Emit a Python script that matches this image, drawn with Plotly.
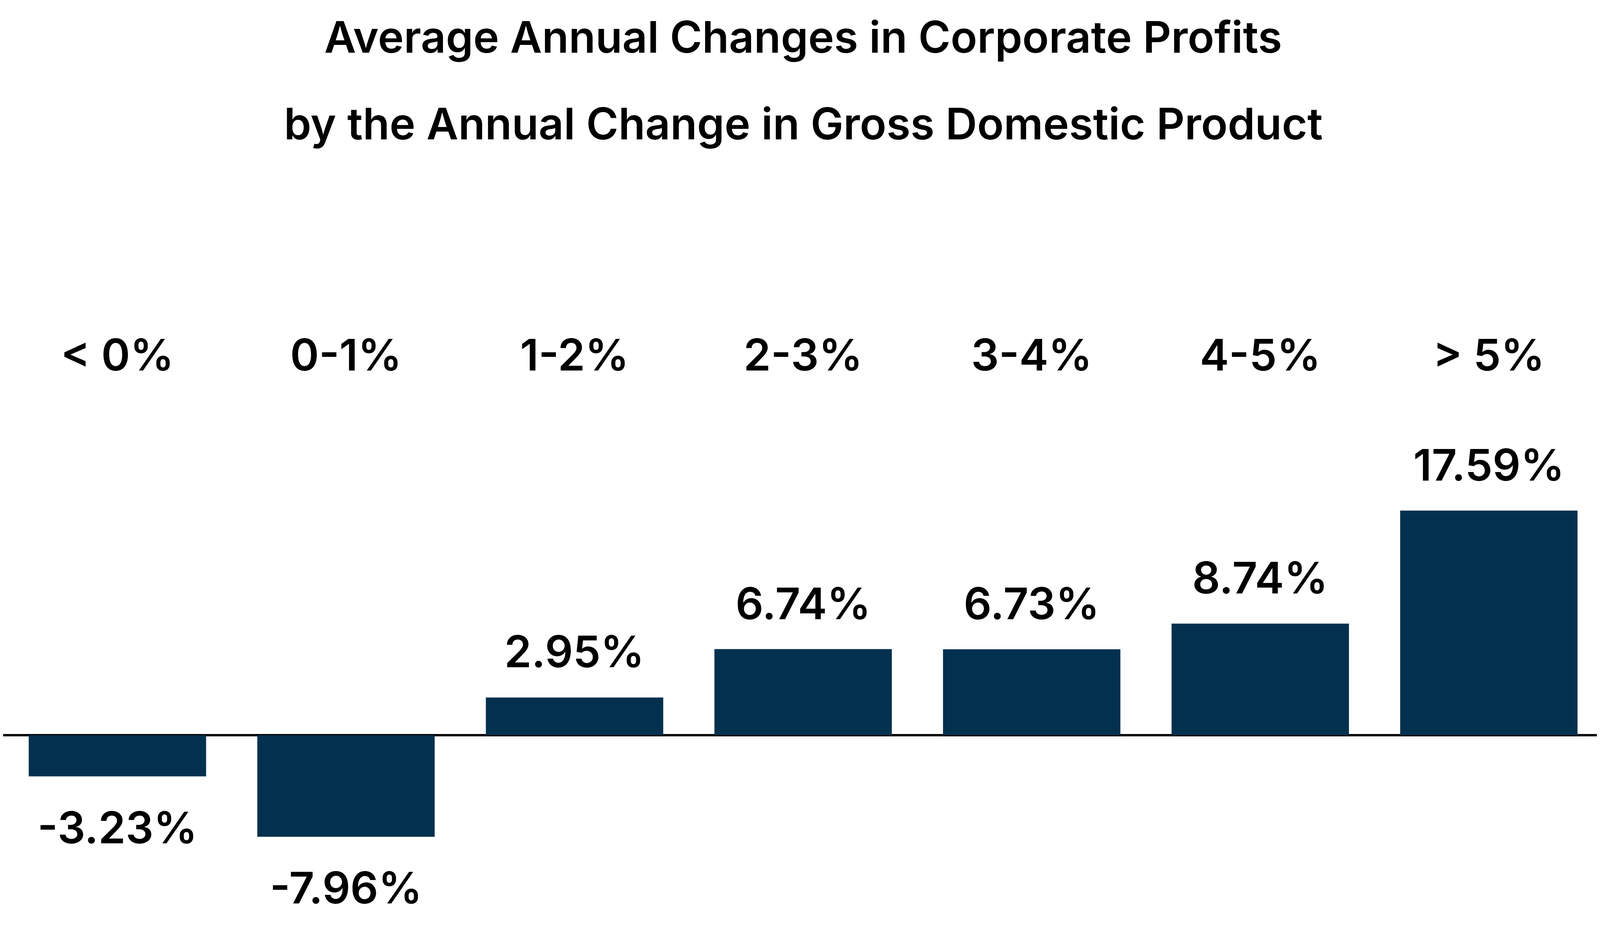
import plotly.graph_objects as go

categories = ["< 0%", "0-1%", "1-2%", "2-3%", "3-4%", "4-5%", "> 5%"]
values = [-3.23, -7.96, 2.95, 6.74, 6.73, 8.74, 17.59]
value_labels = ["-3.23%", "-7.96%", "2.95%", "6.74%", "6.73%", "8.74%", "17.59%"]
title_lines = ["Average Annual Changes in Corporate Profits",
               "by the Annual Change in Gross Domestic Product"]

W, H = 4096, 2366
FONT = "Inter"
FS = 112
FW = 600
BAR = "#02304E"
PLOT_TOP = 1000
Y_RANGE = [-15.02, 26.76]

fig = go.Figure()
fig.add_trace(go.Bar(x=categories, y=values, marker=dict(color=BAR, line=dict(width=0)),
                     hoverinfo="skip"))

for c, v, t in zip(categories, values, value_labels):
    fig.add_annotation(x=c, y=v, text=t, showarrow=False,
                       yanchor="bottom" if v >= 0 else "top",
                       yshift=48 if v >= 0 else -60,
                       font=dict(family=FONT, size=FS, color="#000000", weight=FW))

plot_h = H - PLOT_TOP
line2_y = 1 + (PLOT_TOP - 308) / plot_h
fig.add_annotation(xref="paper", yref="paper", x=0.5, y=line2_y, text=title_lines[1],
                   showarrow=False, xanchor="center", yanchor="middle",
                   font=dict(family=FONT, size=FS, color="#000000", weight=FW))

fig.update_layout(
    width=W, height=H,
    margin=dict(l=0, r=0, t=PLOT_TOP, b=0, autoexpand=False),
    paper_bgcolor="white", plot_bgcolor="white",
    bargap=0.224,
    showlegend=False,
    title=dict(text=title_lines[0],
               x=0.5, xanchor="center", xref="paper",
               y=1 - 88 / H, yref="container", yanchor="middle",
               font=dict(family=FONT, size=FS, color="#000000", weight=FW)),
    xaxis=dict(side="top", showgrid=False, showline=False, ticks="",
               ticklabelstandoff=36,
               tickfont=dict(family=FONT, size=FS, color="#000000", weight=FW),
               range=[-0.5, 6.5]),
    yaxis=dict(range=Y_RANGE, showgrid=False, showticklabels=False,
               zeroline=True, zerolinecolor="#000000", zerolinewidth=6, showline=False),
)

fig.write_html("out.html")
